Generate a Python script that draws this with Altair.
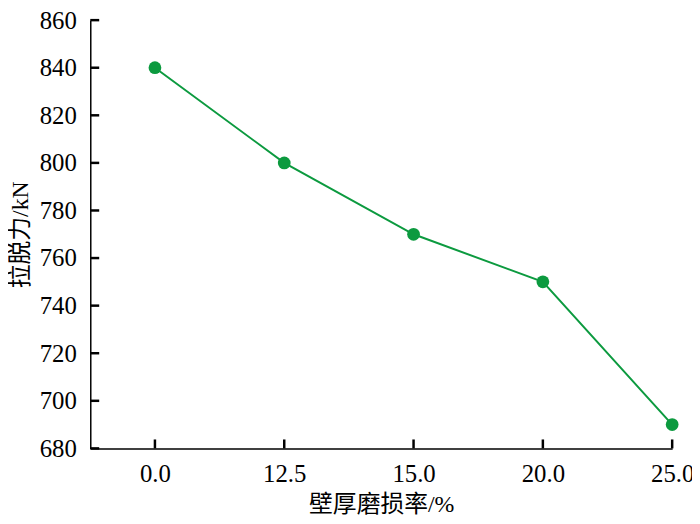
import altair as alt
import pandas as pd

wear_labels = ["0.0", "12.5", "15.0", "20.0", "25.0"]
pull_force = [840, 800, 770, 750, 690]
positions = [0, 1, 2, 3, 4]
y_ticks = list(range(680, 861, 20))

df = pd.DataFrame({"pos": positions, "label": wear_labels, "force": pull_force})
df_yt = pd.DataFrame({"tick_force": y_ticks})
df_xt = pd.DataFrame({"tick_pos": positions})

FONT = "Liberation Serif, Noto Sans CJK SC"
GREEN = "#0c9a3f"
H = 432
TICK = 9

xscale = alt.Scale(domain=[-0.5, 4], nice=False, zero=False)
yscale = alt.Scale(domain=[680, 860], nice=False, zero=False)

x = alt.X("pos:Q", scale=xscale,
          axis=alt.Axis(title="壁厚磨损率/%", values=positions,
                        labelExpr="['0.0','12.5','15.0','20.0','25.0'][datum.value]",
                        grid=False, ticks=False, labelPadding=13,
                        titlePadding=7))
y = alt.Y("force:Q", scale=yscale,
          axis=alt.Axis(title="拉脱力/kN", values=y_ticks,
                        grid=False, ticks=False, labelPadding=14,
                        titlePadding=7))

line = alt.Chart(df).mark_line(color=GREEN, strokeWidth=2).encode(x=x, y=y)
pts = alt.Chart(df).mark_circle(color=GREEN, opacity=1, size=165).encode(x=x, y=y)

ytick = alt.Chart(df_yt).mark_tick(color="black", thickness=2.5, size=TICK, opacity=1).encode(
    y=alt.Y("tick_force:Q", scale=yscale), x=alt.value(TICK / 2))
xtick = alt.Chart(df_xt).mark_tick(color="black", thickness=2.5, size=TICK, opacity=1).encode(
    x=alt.X("tick_pos:Q", scale=xscale), y=alt.value(H - TICK / 2))

chart = (line + pts + ytick + xtick).properties(
    width=587, height=H,
    autosize=alt.AutoSizeParams(type="none"),
    padding={"left": 83, "top": 10, "right": 20, "bottom": 72},
).configure_view(stroke=None).configure_axis(
    domainColor="black", domainWidth=1.5,
    labelFont=FONT, titleFont=FONT, labelFontSize=25, titleFontSize=24,
    labelColor="black", titleColor="black", titleFontWeight="normal",
    labelOverlap=False, labelBound=False, labelFlush=False,
)

chart.save("out.html", embed_options={"renderer": "svg", "actions": False})
